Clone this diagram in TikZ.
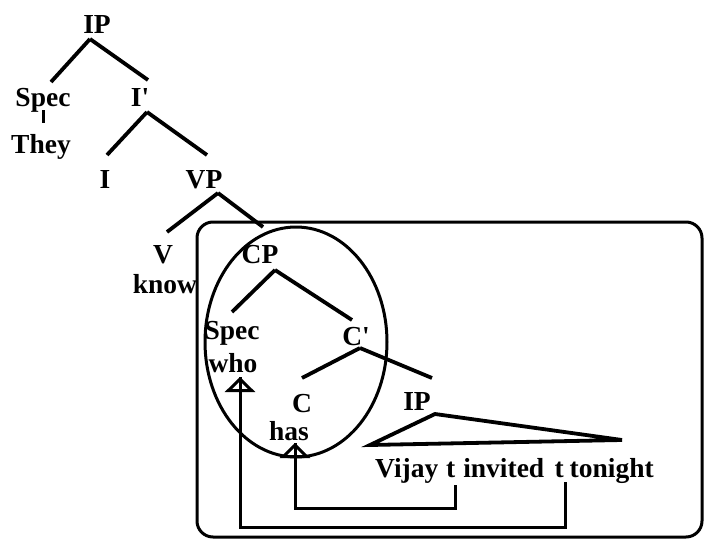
\documentclass[tikz,border=0pt]{standalone}
\usepackage{fontspec}
\setmainfont{Liberation Serif}
\usetikzlibrary{arrows.meta}
\begin{document}
\begin{tikzpicture}[x=1pt,y=-1pt,
  lab/.style={anchor=base, inner sep=0pt, font=\fontsize{27.5}{30}\selectfont\bfseries},
  br/.style={line width=3.8pt},
  conn/.style={line width=3pt},
  movetip/.style={-{Triangle[open,length=15pt,width=30pt]}}]
\useasboundingbox (0,0) rectangle (705,544);
% frames
\draw[conn, rounded corners=16pt] (197,222) rectangle (702,537);
\draw[conn] (296,342) ellipse [x radius=91, y radius=115];
% labels
\node[lab] (ip) at (97,33) {IP};
\node[lab] (spec1) at (43,106) {Spec};
\node[lab] (they) at (41,153) {They};
\node[lab] (ibar) at (140,106) {I\textquotesingle};
\node[lab] (i) at (105,188) {I};
\node[lab] (vp) at (204,188) {VP};
\node[lab] (v) at (163,263) {V};
\node[lab] (know) at (165,293) {know};
\node[lab] (cp) at (260,263) {CP};
\node[lab] (spec2) at (232,339) {Spec};
\node[lab] (who) at (233,372) {who};
\node[lab] (cbar) at (356,345) {C\textquotesingle};
\node[lab] (c) at (302,412) {C};
\node[lab] (has) at (289,440) {has};
\node[lab] (ip2) at (417,410) {IP};
\node[lab, anchor=base west] (w1) at (375,477) {Vijay};
\node[lab, anchor=base west] (t1) at ([xshift=7.5pt]w1.base east) {t};
\node[lab, anchor=base west] (w2) at ([xshift=7.5pt]t1.base east) {invited};
\node[lab, anchor=base west] (t2) at ([xshift=10pt]w2.base east) {t};
\node[lab, anchor=base west] (w3) at ([xshift=5.5pt]t2.base east) {tonight};
% tree branches
\draw[br] ([shift={(-7,6)}]ip.base) -- ([shift={(8,-24)}]spec1.base);
\draw[br] ([shift={(-7,6)}]ip.base) -- ([shift={(8,-26)}]ibar.base);
\draw[line width=3pt] ([shift={(0,4)}]spec1.base) -- ([shift={(2,-30)}]they.base);
\draw[br] ([shift={(7,6)}]ibar.base) -- ([shift={(2,-33)}]i.base);
\draw[br] ([shift={(7,6)}]ibar.base) -- ([shift={(3,-33)}]vp.base);
\draw[br] ([shift={(14,5)}]vp.base) -- ([shift={(4,-31)}]v.base);
\draw[br] ([shift={(14,5)}]vp.base) -- ([shift={(3,-36)}]cp.base);
\draw[br] ([shift={(15,7)}]cp.base) -- ([shift={(0,-27)}]spec2.base);
\draw[br] ([shift={(15,7)}]cp.base) -- ([shift={(-4,-25)}]cbar.base);
\draw[br] ([shift={(4,3)}]cbar.base) -- ([shift={(0,-34)}]c.base);
\draw[br] ([shift={(4,3)}]cbar.base) -- ([shift={(15,-32)}]ip2.base);
\draw[br] ([shift={(18,4)}]ip2.base) -- ([shift={(-47,35)}]ip2.base) -- ([shift={(205,30)}]ip2.base) -- cycle;
% movement
\draw[conn, movetip] ([shift={(0,8)}]t1.base east) -- ++(0,23) -| ([shift={(6,3)}]has.base);
\draw[conn] ([shift={(6,18)}]has.base) -- ([shift={(6,3)}]has.base);
\draw[conn, movetip] ([shift={(1,5)}]t2.base east) -- ++(0,45) -| ([shift={(7,5)}]who.base);
\draw[conn] ([shift={(7,20)}]who.base) -- ([shift={(7,5)}]who.base);
\end{tikzpicture}
\end{document}
